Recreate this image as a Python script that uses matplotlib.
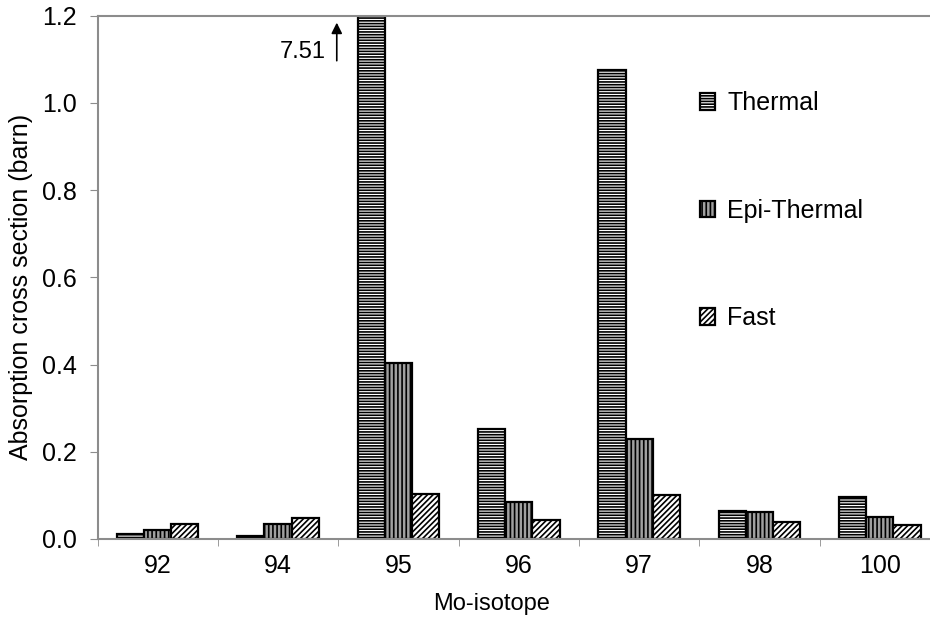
import numpy as np
import matplotlib
matplotlib.use("Agg")
import matplotlib.pyplot as plt

# data
isotopes = ["92", "94", "95", "96", "97", "98", "100"]
thermal = [0.011, 0.006, 7.51, 0.252, 1.076, 0.064, 0.097]
epi_thermal = [0.021, 0.034, 0.403, 0.084, 0.230, 0.062, 0.050]
fast = [0.034, 0.047, 0.103, 0.043, 0.100, 0.038, 0.033]
series_names = ["Thermal", "Epi-Thermal", "Fast"]

plt.rcParams['font.family'] = ['Liberation Sans', 'DejaVu Sans']
plt.rcParams['hatch.linewidth'] = 1.2

fig = plt.figure(figsize=(9.3, 6.22), dpi=100)
W, H = 930, 622
# axes extends a little past the right edge, like the cropped original
ax = fig.add_axes([97.5 / W, (H - 539) / H, (940 - 97.5) / W, (539 - 15.5) / H])

x = np.arange(len(isotopes))
w = 0.226
gray = "#8c8c8c"

ax.bar(x - w, thermal, w, facecolor="white", edgecolor="black", hatch="------",
       linewidth=1.6, label=series_names[0])
ax.bar(x, epi_thermal, w, facecolor="#a0a0a0", edgecolor="black", hatch="||||",
       linewidth=1.6, label=series_names[1])
ax.bar(x + w, fast, w, facecolor="white", edgecolor="black", hatch="//////",
       linewidth=1.6, label=series_names[2])

ax.set_xlim(-0.5, len(isotopes) - 0.5)
ax.set_ylim(0, 1.2)
ax.set_yticks(np.arange(0, 1.21, 0.2))
ax.set_yticklabels([f"{v:.1f}" for v in np.arange(0, 1.21, 0.2)], fontsize=18)
ax.set_xticks(x)
ax.set_xticklabels(isotopes, fontsize=18)
ax.set_xticks(np.arange(-0.5, len(isotopes), 1), minor=True)
ax.tick_params(axis="x", which="major", length=0, pad=11)
ax.tick_params(axis="x", which="minor", length=5, color=gray, direction="out")
ax.tick_params(axis="y", length=6, color=gray, pad=9)

for s in ["left", "bottom", "top"]:
    ax.spines[s].set_color(gray)
    ax.spines[s].set_linewidth(1.5)
ax.spines["right"].set_visible(False)

ax.set_xlabel("Mo-isotope", fontsize=17)
ax.set_ylabel("Absorption cross section (barn)", fontsize=18)
ax.xaxis.set_label_coords(0.468, -0.104)
ax.yaxis.set_label_coords(-0.077, 0.481)

# off-scale marker for the 95 thermal bar
ax.annotate("", xy=(1.488, 1.19), xytext=(1.488, 1.09),
            arrowprops=dict(arrowstyle="-|>", color="black", lw=1.2, mutation_scale=16))
ax.text(1.40, 1.117, f"{thermal[2]:.2f}", fontsize=17, ha="right", va="center")

leg = ax.legend(loc="upper left", bbox_to_anchor=(0.703, 0.875), frameon=False,
                fontsize=18, labelspacing=3.35, handlelength=0.6, handleheight=0.65,
                handletextpad=0.5, borderaxespad=0)

fig.savefig("out.png", dpi=100)
